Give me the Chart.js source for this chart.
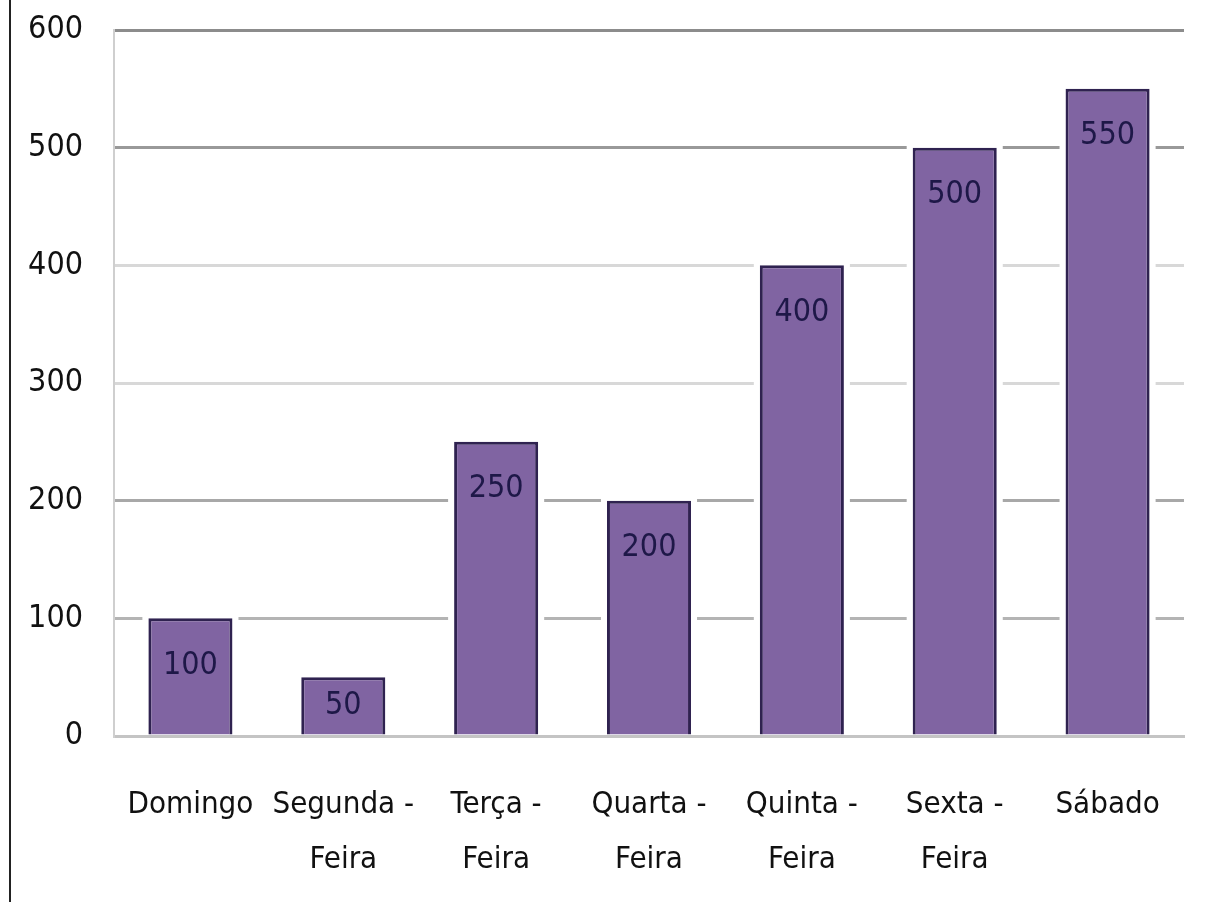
<!DOCTYPE html>
<html>
<head>
<meta charset="utf-8">
<script src="https://cdn.jsdelivr.net/npm/chart.js@4/dist/chart.umd.min.js"></script>
<style>
  html, body { margin: 0; padding: 0; background: #fff; }
  #wrap { position: relative; width: 1210px; height: 902px; }
  #frame { position: absolute; left: 9px; top: 0; width: 2px; height: 902px; background: #222; }
</style>
</head>
<body>
<div id="wrap">
  <canvas id="chart"></canvas>
  <div id="frame"></div>
</div>
<script>
const days = [
    'Domingo',
    ['Segunda -', 'Feira'],
    ['Terça -', 'Feira'],
    ['Quarta -', 'Feira'],
    ['Quinta -', 'Feira'],
    ['Sexta -', 'Feira'],
    'Sábado'
];
const values = [100, 50, 250, 200, 400, 500, 550];
const yTicks = [0, 100, 200, 300, 400, 500, 600];

const narrow = '"DejaVu Sans Condensed", "Liberation Sans", sans-serif';

// grid line shade per tick, bottom to top (the scan is uneven)
const gridShades = ['#c4c4c4', '#b4b4b4', '#a8a8a8', '#d8d8d8', '#d8d8d8', '#999999', '#8c8c8c'];

// white gap around each bar, so the grid lines stop short of it
const barHalo = {
    id: 'barHalo',
    beforeDatasetsDraw(chart) {
        const ctx = chart.ctx;
        const bars = chart.getDatasetMeta(0).data;
        ctx.save();
        ctx.fillStyle = '#fff';
        bars.forEach(bar => {
            const w = bar.width;
            ctx.fillRect(bar.x - w / 2 - 6, bar.y - 6, w + 12, bar.base - bar.y + 4);
        });
        ctx.restore();
    }
};

// value labels inside the top end of the bars
const barLabels = {
    id: 'barLabels',
    afterDatasetsDraw(chart) {
        const ctx = chart.ctx;
        const bars = chart.getDatasetMeta(0).data;
        ctx.save();
        ctx.font = '32px ' + narrow;
        ctx.fillStyle = '#1e1848';
        ctx.textAlign = 'center';
        ctx.textBaseline = 'middle';
        bars.forEach((bar, i) => {
            const y = Math.min(bar.y + 47, (bar.y + bar.base) / 2);
            ctx.fillText(String(values[i]), bar.x, y);
        });
        ctx.restore();
    }
};

new Chart(document.getElementById('chart'), {
    type: 'bar',
    data: {
        labels: days,
        datasets: [{
            data: values,
            backgroundColor: '#8064a2',
            borderColor: '#2f2250',
            borderWidth: 3,
            barPercentage: 0.55,
            categoryPercentage: 1
        }]
    },
    options: {
        responsive: true,
        maintainAspectRatio: false,
        animation: false,
        layout: { padding: { top: 30, right: 26, left: 0, bottom: 0 } },
        plugins: {
            legend: { display: false },
            tooltip: { enabled: false }
        },
        scales: {
            x: {
                grid: { display: false, drawTicks: false },
                border: { color: '#c4c4c4', width: 3 },
                ticks: {
                    color: '#111',
                    font: { family: narrow, size: 31, lineHeight: 1.77 },
                    padding: 42,
                    maxRotation: 0,
                    autoSkip: false
                },
                afterFit(scale) {
                    scale.height = 166;
                    scale.paddingLeft = 0;
                    scale.paddingRight = 0;
                }
            },
            y: {
                min: 0,
                max: 600,
                afterBuildTicks(scale) { scale.ticks = yTicks.map(v => ({ value: v })); },
                grid: {
                    color: ctx => gridShades[ctx.index] || '#aaa',
                    lineWidth: 3,
                    drawTicks: false
                },
                border: { color: '#cfcfcf', width: 2 },
                ticks: {
                    color: '#111',
                    font: { family: narrow, size: 32 },
                    padding: 31
                },
                afterFit(scale) {
                    scale.width = 114;
                    scale.paddingTop = 0;
                    scale.paddingBottom = 0;
                }
            }
        }
    },
    plugins: [barHalo, barLabels]
});
</script>
</body>
</html>
